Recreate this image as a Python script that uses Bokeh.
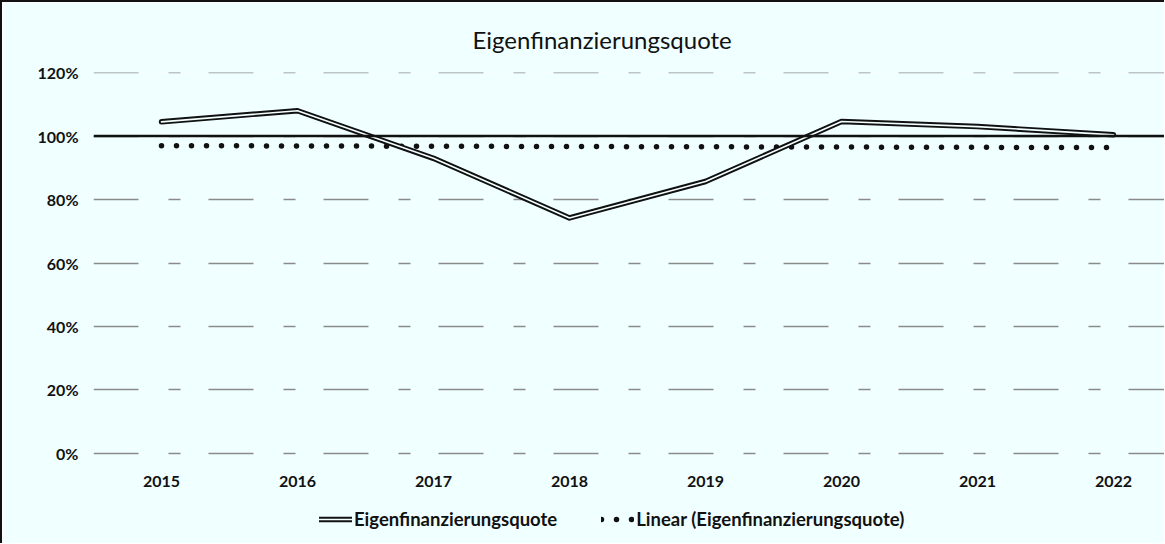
import numpy as np
from bokeh.plotting import figure
from bokeh.models import Range1d, FixedTicker, Span, Legend, LegendItem, ColumnDataSource
from bokeh.embed import file_html
from bokeh.resources import INLINE

# ---- data ----
years = ["2015", "2016", "2017", "2018", "2019", "2020", "2021", "2022"]
quote = [1.045, 1.080, 0.930, 0.742, 0.857, 1.046, 1.030, 1.004]
y_ticks = [0.0, 0.2, 0.4, 0.6, 0.8, 1.0, 1.2]
y_tick_labels = ["0%", "20%", "40%", "60%", "80%", "100%", "120%"]
reference_level = 1.0
title_text = "Eigenfinanzierungsquote"
series_name = "Eigenfinanzierungsquote"
trend_name = "Linear (Eigenfinanzierungsquote)"

idx = list(range(len(years)))
slope, intercept = np.polyfit(idx, quote, 1)
trend = [intercept + slope * i for i in idx]

src = ColumnDataSource(dict(x=idx, y=quote, t=trend))

BG = "#F0FFFF"
FONT = "Lato"

# frame spans down to the bottom edge so the legend (drawn inside) is not clipped;
# the x axis is pinned at y = 0
p = figure(width=1164, height=543, output_backend="svg", toolbar_location=None,
           x_range=Range1d(-0.5, 7.39), y_range=Range1d(-0.2905, 1.2005),
           min_border_left=91, min_border_right=0, min_border_top=70, min_border_bottom=0,
           background_fill_color=BG, border_fill_color=BG,
           title=title_text)
p.outline_line_color = None
p.styles = {"border-left": "2px solid #111111", "border-top": "2px solid #111111",
            "box-sizing": "border-box"}

p.title.align = "left"
p.title.offset = 379
p.title.standoff = 38
p.title.text_font = FONT
p.title.text_font_style = "normal"
p.title.text_font_size = "24px"
p.title.text_color = "#111111"

# grid
p.xgrid.grid_line_color = None
p.ygrid.ticker = FixedTicker(ticks=y_ticks)
p.ygrid.grid_line_color = "#8a8a8a"
p.ygrid.grid_line_width = 1.3
p.ygrid.grid_line_dash = "45 30 12 28"

# axes
p.yaxis.ticker = FixedTicker(ticks=y_ticks)
p.yaxis.major_label_overrides = {t: l for t, l in zip(y_ticks, y_tick_labels)}
p.xaxis.ticker = FixedTicker(ticks=idx)
p.xaxis.major_label_overrides = {i: y for i, y in zip(idx, years)}
p.xaxis.fixed_location = 0
for ax in (p.xaxis, p.yaxis):
    ax.axis_line_color = None
    ax.major_tick_line_color = None
    ax.minor_tick_line_color = None
    ax.major_tick_out = 0
    ax.major_tick_in = 0
    ax.major_label_text_font = FONT
    ax.major_label_text_font_style = "bold"
    ax.major_label_text_font_size = "16px"
    ax.major_label_text_color = "#111111"
p.yaxis.major_label_standoff = 15
p.xaxis.major_label_standoff = 23

# 100% reference line
p.add_layout(Span(location=reference_level, dimension="width", line_color="#111111", line_width=2.5))

# trend (dotted)
r_trend = p.line("x", "t", source=src, line_color="#111111", line_width=5.5,
                 line_dash="0 15", line_cap="round")

# main series: double line
r_outer = p.line("x", "y", source=src, line_color="#111111", line_width=5.5, line_join="round", line_cap="round")
r_inner = p.line("x", "y", source=src, line_color="#F4FFFF", line_width=1.6, line_join="round", line_cap="round")

legend = Legend(items=[LegendItem(label=series_name, renderers=[r_outer, r_inner]),
                       LegendItem(label=trend_name, renderers=[r_trend])],
                orientation="horizontal", location=(226, 15), glyph_width=33, glyph_height=16,
                label_standoff=2, spacing=44, padding=0, margin=0,
                border_line_color=None, background_fill_alpha=0,
                label_text_font=FONT, label_text_font_style="bold",
                label_text_font_size="18.5px", label_text_color="#111111")
p.add_layout(legend)

open("out.html", "w").write(file_html(p, INLINE))
